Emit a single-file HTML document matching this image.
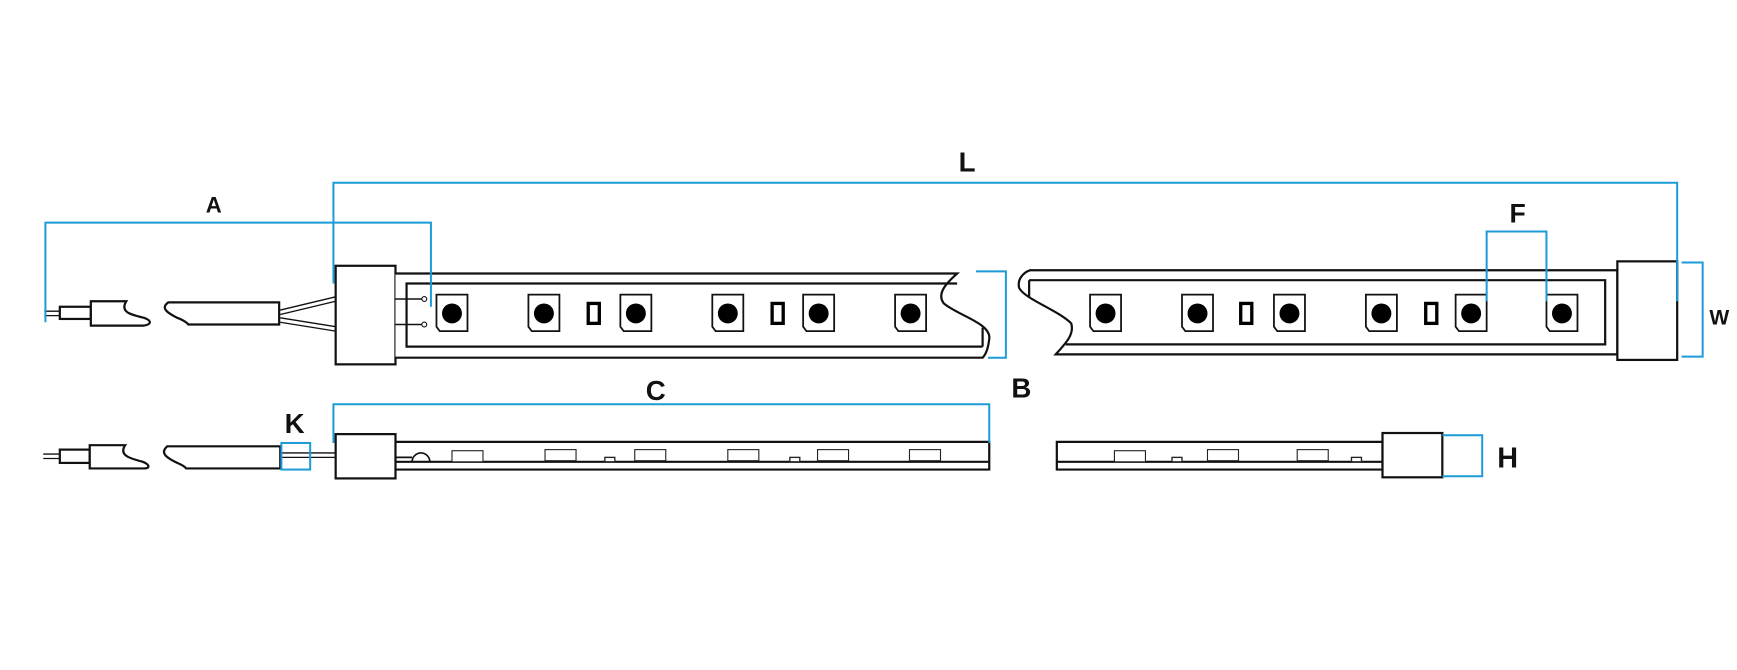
<!DOCTYPE html>
<html><head><meta charset="utf-8"><style>
html,body{margin:0;padding:0;background:#fff;width:1737px;height:670px;overflow:hidden}
svg{display:block}
text{font-family:"Liberation Sans",sans-serif;font-weight:bold;fill:#111}
</style></head><body>
<svg width="1737" height="670" viewBox="0 0 1568 605" preserveAspectRatio="none" xmlns="http://www.w3.org/2000/svg">
<defs>
<g id="led"><path d="M0,0 H28 V33 H3 L0,29 Z" fill="#fff" stroke="#111" stroke-width="1.6"/><circle cx="14" cy="17" r="9" fill="#000"/></g>
<g id="res"><rect x="0" y="0" width="10" height="18" fill="#fff" stroke="#000" stroke-width="3"/></g>
<g id="sc"><rect x="0" y="0" width="28" height="10" fill="#fff" stroke="#222" stroke-width="1"/></g>
<g id="tc"><rect x="0" y="0" width="9" height="4" fill="#fff" stroke="#222" stroke-width="1.2"/></g>
</defs>
<g fill="none" stroke="#111" stroke-width="2">
<!-- top left cable -->
<path d="M40,281 H54 M40,285 H54" stroke-width="1.2"/>
<rect x="54" y="277" width="28" height="11" fill="#fff"/>
<path d="M82,272 H114 C108,282 118,284 130,287 C138,290 136,293 130,294 H82 Z" fill="#fff"/>
<path d="M252,273 H152 C145,278 150,282 160,287 C168,290 170,293 170,293 H252 Z" fill="#fff"/>
<path d="M253,280 L303,268 M253,284 L303,272 M253,287 L303,295 M253,291 L303,299" stroke-width="1.2"/>
<rect x="303" y="240" width="54" height="89" fill="#fff"/>
<!-- top strip left -->
<path d="M357,247 H864 C855,255 845,265 852,274 C865,285 895,292 893,306 C892,315 890,320 887,323 H357" fill="#fff"/>
<path d="M887,313 H367 V256 H864"/>
<path d="M887,296 V313" />
<path d="M357,270 H381 M357,293 H381" stroke-width="1.3"/>
<circle cx="383" cy="270" r="2.2" fill="#fff" stroke-width="1"/>
<circle cx="383" cy="293" r="2.2" fill="#fff" stroke-width="1"/>
<!-- top strip right -->
<path d="M930,244 H1460 V320 H953 C962,310 970,302 967,292 C955,280 925,270 920,260 C918,252 924,246 930,244 Z" fill="#fff"/>
<path d="M929,253 H1449 V311 H962"/>
<path d="M929,253 V268" />
<rect x="1460" y="236" width="54" height="89" fill="#fff"/>
<!-- bottom left -->
<path d="M39,410 H54 M39,414 H54" stroke-width="1.2"/>
<rect x="54" y="406" width="27" height="12" fill="#fff"/>
<path d="M81,402 H113 C107,411 117,414 129,417 C136,420 135,423 130,423 H81 Z" fill="#fff"/>
<path d="M253,403 H151 C144,409 150,413 160,418 C167,421 168,423 168,423 H253 Z" fill="#fff"/>
<path d="M253,409 H303 M253,413 H303" stroke-width="1.2"/>
<rect x="303" y="392" width="54" height="40" fill="#fff"/>
<path d="M357,399 H893 V424 H357 M357,417 H893"/>
<path d="M357,413 H372" stroke-width="1.5"/>
<path d="M372,417 A8,8 0 0 1 388,417" stroke-width="1.5"/>
<!-- bottom right -->
<path d="M954,399 H1248 V424 H954 Z M954,417 H1248"/>
<rect x="1248" y="391" width="54" height="40" fill="#fff"/>
</g>
<use href="#led" x="394" y="266"/><use href="#led" x="477" y="266"/><use href="#led" x="560" y="266"/>
<use href="#led" x="643" y="266"/><use href="#led" x="725" y="266"/><use href="#led" x="808" y="266"/>
<use href="#res" x="531" y="274"/><use href="#res" x="697" y="274"/>
<use href="#led" x="984" y="266"/><use href="#led" x="1067" y="266"/><use href="#led" x="1150" y="266"/>
<use href="#led" x="1233" y="266"/><use href="#led" x="1314" y="266"/><use href="#led" x="1396" y="266"/>
<use href="#res" x="1120" y="274"/><use href="#res" x="1287" y="274"/>
<use href="#sc" x="408" y="407"/><use href="#sc" x="492" y="406"/><use href="#sc" x="573" y="406"/>
<use href="#sc" x="657" y="406"/><use href="#sc" x="738" y="406"/><use href="#sc" x="821" y="406"/>
<use href="#tc" x="546" y="413"/><use href="#tc" x="713" y="413"/>
<use href="#sc" x="1006" y="407"/><use href="#sc" x="1090" y="406"/><use href="#sc" x="1171" y="406"/>
<use href="#tc" x="1058" y="413"/><use href="#tc" x="1220" y="413"/>
<!-- blue dimensions -->
<g fill="none" stroke="#1b9bd7" stroke-width="1.8">
<path d="M301,256 V165 H1514 V272"/>
<path d="M41,291 V201 H389 V277"/>
<path d="M1342,272 V209 H1396 V272"/>
<path d="M1518,237 H1537 V322 H1518"/>
<path d="M881,245 H908 V323 H892"/>
<path d="M301,400 V365 H893 V400"/>
<rect x="254" y="400" width="26" height="24"/>
<path d="M1302,393 H1338 V430 H1302"/>
</g>
<text x="873" y="155" font-size="25" text-anchor="middle">L</text>
<text x="193" y="192" font-size="20" text-anchor="middle">A</text>
<text x="1370" y="201" font-size="24" text-anchor="middle">F</text>
<text x="1552" y="293" font-size="19" text-anchor="middle" font-weight="normal">W</text>
<text x="922" y="359" font-size="25" text-anchor="middle">B</text>
<text x="592" y="361" font-size="25" text-anchor="middle">C</text>
<text x="266" y="391" font-size="25" text-anchor="middle">K</text>
<text x="1361" y="422" font-size="26" text-anchor="middle">H</text>
</svg>
</body></html>
